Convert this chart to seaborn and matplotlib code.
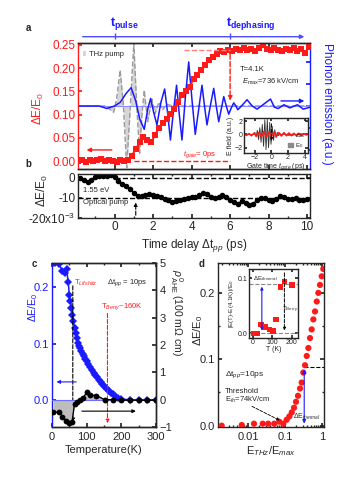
import numpy as np
import matplotlib
matplotlib.use("Agg")
import matplotlib.pyplot as plt
import seaborn as sns
from matplotlib.ticker import MultipleLocator, FixedLocator, LogLocator, NullFormatter
from matplotlib.lines import Line2D
from matplotlib.patches import Patch

# ---------------- data ----------------
# panel a: transient dE/E0 (red squares)
red_t = [-1.9, -1.7, -1.5, -1.3, -1.1, -0.9, -0.7, -0.5, -0.3, -0.1, 0.1, 0.3, 0.5, 0.7,
         0.9, 1.1, 1.3, 1.5, 1.7, 1.9, 2.1, 2.3, 2.5, 2.7, 2.9, 3.1, 3.3, 3.5, 3.7, 3.9,
         4.1, 4.3, 4.5, 4.7, 4.9, 5.1, 5.3, 5.5, 5.7, 5.9, 6.1, 6.3, 6.5, 6.7, 6.9, 7.1,
         7.3, 7.5, 7.7, 7.9, 8.1, 8.3, 8.5, 8.7, 8.9, 9.1, 9.3, 9.5, 9.7, 9.9, 10.1]
red_dE = [0.000, 0.002, -0.001, 0.003, 0.001, 0.002, 0.004, 0.000, 0.003, 0.001, -0.001, 0.002,
          0.001, 0.003, 0.012, 0.026, 0.040, 0.052, 0.045, 0.040, 0.056, 0.072, 0.082, 0.090,
          0.101, 0.112, 0.127, 0.143, 0.151, 0.159, 0.177, 0.186, 0.195, 0.207, 0.217, 0.224,
          0.231, 0.237, 0.235, 0.239, 0.236, 0.241, 0.238, 0.243, 0.239, 0.242, 0.236, 0.244,
          0.249, 0.241, 0.238, 0.243, 0.240, 0.236, 0.242, 0.239, 0.244, 0.237, 0.241, 0.233,
          0.245]

# panel a: phonon emission (blue, a.u.)
ph_t = [-1.9, -0.8, -0.4, 0.0, 0.3, 0.6, 0.86, 1.1, 1.3, 1.54, 1.72, 1.87, 2.03, 2.2, 2.4,
        2.6, 2.75, 2.9, 3.05, 3.22, 3.35, 3.5, 3.68, 3.85, 4.02, 4.19, 4.37, 4.54, 4.67, 4.8,
        4.97, 5.15, 5.28, 5.41, 5.54, 5.67, 5.8, 5.93, 6.06, 6.19, 6.3, 6.4, 6.65, 6.88, 7.15,
        7.4, 7.75, 8.1, 8.3, 8.5, 8.8, 9.1, 9.5, 9.8, 10.15]
ph_v = [0, 0, -0.04, 0.0, 0.06, 0.2, 0.29, 0.08, -0.2, -0.37, -0.05, 0.12, -0.1, -0.3, 0.05,
        0.27, -0.1, -0.54, -0.1, 0.33, -0.1, -0.54, 0.15, 0.7, 0.1, -0.45, -0.05, 0.33, 0.0, -0.3,
        0.0, 0.28, 0.0, -0.25, -0.05, 0.15, 0.0, -0.13, -0.03, 0.05, 0.0, -0.06, 0.02, 0.1, 0.0,
        -0.05, 0.03, 0.11, -0.02, -0.04, 0.02, -0.03, 0.02, -0.05, -0.02]

# panel a: THz pump waveform (gray)
pump_t = [-1.9, -0.5, -0.25, -0.05, 0.1, 0.29, 0.45, 0.63, 0.82, 1.0, 1.15, 1.3, 1.42, 1.54,
          1.72, 1.94, 2.1, 2.3, 2.5, 2.7, 3.0, 10.15]
pump_v = [0, 0, -0.05, -0.1, 0.1, 0.57, 0.05, -0.98, 0.0, 1.0, 0.0, -0.75, -0.15, 0.25,
          -0.25, 0.11, -0.12, 0.06, -0.06, 0.03, 0.0, 0]

# panel a inset: gate scans
gate_t = [-3.3, -2.2, -2.0, -1.85, -1.7, -1.55, -1.4, -1.25, -1.1, -0.95, -0.8, -0.65, -0.5,
          -0.35, -0.2, -0.05, 0.1, 0.25, 0.4, 0.55, 0.7, 0.85, 1.0, 1.2, 4.4]
gate_E0 = [0, 0, 0.3, -0.4, 0.6, -0.8, 1.0, -1.2, 1.5, -1.8, 2.2, -2.3, 2.3, -2.0, 1.8, -1.5,
           1.2, -0.9, 0.7, -0.5, 0.3, -0.2, 0.1, 0, 0]
gate_dt = [-3.3, -3.0, -2.7, -2.4, -2.1, -1.8, -1.5, -1.2, -0.9, -0.6, -0.3, 0.0, 0.3, 0.6,
           0.9, 1.2, 1.5, 1.8, 2.1, 2.4, 2.7, 3.0, 3.3, 3.6, 3.9, 4.2, 4.4]
gate_dE = [0.1, -0.15, 0.1, -0.2, 0.15, -0.25, 0.3, -0.35, 0.4, -0.4, 0.35, -0.3, 0.3, -0.3,
           0.25, -0.25, 0.25, -0.2, 0.2, -0.2, 0.15, -0.2, 0.15, -0.15, 0.1, -0.1, 0.05]

# panel b: optical pump (units of 1e-3)
opt_t = [-1.8, -1.6, -1.4, -1.2, -1.0, -0.8, -0.6, -0.4, -0.2, 0.0, 0.2, 0.4, 0.6, 0.8, 1.0,
         1.2, 1.4, 1.6, 1.8, 2.0, 2.2, 2.4, 2.6, 2.8, 3.0, 3.2, 3.4, 3.6, 3.8, 4.0, 4.2, 4.4,
         4.6, 4.8, 5.0, 5.2, 5.4, 5.6, 5.8, 6.0, 6.2, 6.4, 6.6, 6.8, 7.0, 7.2, 7.4, 7.6, 7.8,
         8.0, 8.2, 8.4, 8.6, 8.8, 9.0, 9.2, 9.4, 9.6, 9.8, 10.0]
opt_dE = [0, -1.2, -2.2, -0.8, 0.5, 0.8, 0.8, 1.0, 1.6, 0.4, -1.4, -3.0, -4.2, -5.4, -7.5,
          -9.0, -8.9, -8.6, -8.0, -8.3, -8.8, -9.5, -10.3, -11.2, -11.8, -11.5, -11.0, -10.5,
          -10.2, -9.7, -9.4, -8.6, -7.6, -8.2, -9.3, -9.8, -9.3, -8.5, -9.4, -11.0, -12.2,
          -12.8, -11.6, -12.6, -13.5, -12.8, -11.2, -10.0, -10.2, -10.8, -11.3, -10.5, -9.2,
          -9.6, -10.3, -10.6, -10.0, -10.8, -11.0, -10.4]

# panel c: temperature dependence
temp_c = [4, 10, 20, 30, 37, 42, 47, 50, 53, 56, 59, 62, 65, 68, 71, 74, 77, 80, 84, 88, 92,
          96, 100, 105, 110, 115, 120, 125, 130, 135, 140, 145, 150, 155, 160, 165, 170, 175,
          180, 190, 200, 225, 250, 275, 300]
dE_c = [0.242, 0.243, 0.241, 0.228, 0.225, 0.231, 0.208, 0.185, 0.176, 0.163, 0.150, 0.140,
        0.127, 0.118, 0.109, 0.101, 0.096, 0.092, 0.087, 0.082, 0.077, 0.073, 0.069, 0.064,
        0.058, 0.053, 0.048, 0.044, 0.040, 0.036, 0.032, 0.029, 0.025, 0.022, 0.019, 0.016,
        0.013, 0.010, 0.008, 0.004, 0.002, 0.0, 0.0, 0.0, 0.0]
temp_rho = [4, 20, 30, 40, 50, 58, 65, 72, 80, 90, 100, 110, 128, 152, 175, 200, 225, 250, 275, 300]
rho_ahe = [-0.46, -0.46, -0.62, -0.78, -0.86, -0.80, -0.15, -0.08, -0.02, 0.06, 0.27, 0.17,
           0.15, 0.0, 0.0, -0.02, -0.02, -0.02, -0.02, -0.02]

# panel d: field dependence
field_d = [0.00195, 0.0068, 0.0145, 0.025, 0.035, 0.051, 0.070, 0.09, 0.111, 0.131, 0.152,
           0.175, 0.198, 0.224, 0.254, 0.282, 0.312, 0.347, 0.386, 0.427, 0.473, 0.525, 0.582,
           0.646, 0.72, 0.795, 0.88, 0.98, 1.08]
dE_d = [0.0, 0.001, 0.003, 0.003, 0.003, 0.003, 0.006, 0.003, 0.009, 0.014, 0.02, 0.027,
        0.036, 0.045, 0.056, 0.065, 0.08, 0.091, 0.105, 0.117, 0.132, 0.145, 0.16, 0.172,
        0.187, 0.2, 0.212, 0.225, 0.236]
temp_in = [4, 20, 41, 63, 85, 102, 119, 143, 162, 200]
dEth_in = [0.0, 0.0, 0.016, 0.012, 0.007, 0.004, 0.025, 0.084, 0.094, 0.088]

# ---------------- style ----------------
sns.set_theme(style="ticks")
plt.rcParams['font.family'] = ['Liberation Sans', 'DejaVu Sans']
plt.rcParams['mathtext.fontset'] = 'custom'
plt.rcParams['mathtext.rm'] = 'Liberation Sans'
plt.rcParams['mathtext.it'] = 'Liberation Sans:italic'
plt.rcParams['mathtext.bf'] = 'Liberation Sans:bold'
plt.rcParams['xtick.direction'] = 'in'
plt.rcParams['ytick.direction'] = 'in'
plt.rcParams['xtick.major.size'] = 3
plt.rcParams['ytick.major.size'] = 3
plt.rcParams['xtick.minor.size'] = 1.5
plt.rcParams['ytick.minor.size'] = 1.5
plt.rcParams['xtick.major.pad'] = 2
plt.rcParams['ytick.major.pad'] = 2
plt.rcParams['axes.linewidth'] = 1.0

RED = '#ff1a1a'
BLUE = '#1a1aff'
W, H = 360, 480


def px_rect(x0, y0, x1, y1):
    return [x0 / W, 1 - y1 / H, (x1 - x0) / W, (y1 - y0) / H]


fig = plt.figure(figsize=(3.6, 4.8), dpi=100)

# ================= panel a =================
axA = fig.add_axes(px_rect(78, 43, 310, 169))
axP = axA.twinx()
axA.set_zorder(axP.get_zorder() + 1)
axA.patch.set_visible(False)

axP.fill_between(pump_t, pump_v, 0, color='#d6d6d6', lw=0, label='THz pump')
sns.lineplot(x=pump_t, y=pump_v, ax=axP, color='#9a9a9a', lw=1.0, linestyle='--', sort=False)
axP.axhline(0, color='#8c8cff', lw=0.8)
sns.lineplot(x=ph_t, y=ph_v, ax=axP, color=BLUE, lw=1.1, sort=False)
axP.set_ylim(-1, 1)
axP.yaxis.set_major_locator(MultipleLocator(0.35))
axP.tick_params(axis='y', colors=BLUE, labelright=False, length=3)
axP.spines['right'].set_color(BLUE)
axP.spines['left'].set_visible(False)
axP.set_ylabel('Phonon emission (a.u.)', color=BLUE, fontsize=8.5, rotation=270)
axP.yaxis.set_label_coords(1.10, 0.52)
axP.legend(loc='upper left', frameon=False, fontsize=5.5, handlelength=0.5, handleheight=0.5,
           handletextpad=0.4, borderaxespad=0.2, bbox_to_anchor=(0.0, 0.97))

sns.lineplot(x=red_t, y=red_dE, ax=axA, color=RED, lw=1.4, marker='s', markersize=4,
             markeredgewidth=0)
axA.set_xlim(-1.9, 10.15)
axA.set_ylim(-0.017, 0.254)
axA.set_yticks([0, 0.05, 0.10, 0.15, 0.20, 0.25])
axA.set_yticklabels(['0.00', '0.05', '0.10', '0.15', '0.20', '0.25'])
axA.xaxis.set_major_locator(MultipleLocator(2))
axA.tick_params(axis='x', top=True, labelbottom=False)
axA.tick_params(axis='y', colors=RED, labelsize=8.5)
axA.spines['left'].set_color(RED)
axA.spines['right'].set_visible(False)
axA.set_ylabel(r'$\Delta$E/E$_0$', color=RED, fontsize=8.5)
axA.yaxis.set_label_coords(-0.14, 0.48)
axA.set_xlabel('')

axA.hlines(0.238, 3.6, 6.0, colors='#ff7f7f', linestyles='--', lw=1)
axA.hlines(0.0, 1.0, 6.0, colors=RED, linestyles='--', lw=1)
axA.annotate('', xy=(6.0, 0.124), xytext=(6.0, 0.236),
             arrowprops=dict(arrowstyle='-|>', color=RED, lw=1, ls='--', mutation_scale=6))
axA.annotate('', xy=(-1.6, 0.024), xytext=(0.0, 0.024),
             arrowprops=dict(arrowstyle='-|>', color=RED, lw=1, mutation_scale=6))
axP.annotate('', xy=(10.0, 0.08), xytext=(8.5, 0.08),
             arrowprops=dict(arrowstyle='-|>', color=BLUE, lw=1, mutation_scale=6))
axA.text(6.5, 0.196, 'T=4.1K', fontsize=5.5, va='center')
axA.text(6.6, 0.170, r'$\mathit{E}_{\rm max}$=736 kV/cm', fontsize=5.5, va='center')
axA.text(3.55, 0.013, r'$\mathit{t}_{\mathit{gate}}$= 0ps', fontsize=5.5, color=RED, va='center')

# top time arrow
xtr = axA.get_xaxis_transform()
axA.annotate('', xy=(10.0, 1.05), xytext=(-1.8, 1.05), xycoords=xtr, textcoords=xtr,
             annotation_clip=False,
             arrowprops=dict(arrowstyle='-|>', color='#4d4dff', lw=1, mutation_scale=6))
axA.vlines([0, 6], 1.03, 1.08, transform=xtr, colors='#4d4dff', lw=1, clip_on=False)
axA.text(-0.25, 1.09, r'$\mathbf{t}_{\mathbf{pulse}}$', transform=xtr, color=BLUE,
         fontsize=9, va='bottom', ha='left')
axA.text(5.8, 1.09, r'$\mathbf{t}_{\mathbf{dephasing}}$', transform=xtr, color=BLUE,
         fontsize=9, va='bottom', ha='left')

# inset a
axIa = fig.add_axes(px_rect(244, 118, 308, 153))
axIa.set_facecolor('white')
axIa.fill_between(gate_t, gate_E0, 0, color='#b5b5b5', lw=0)
sns.lineplot(x=gate_t, y=gate_E0, ax=axIa, color='#333333', lw=0.6, sort=False)
sns.lineplot(x=gate_dt, y=gate_dE, ax=axIa, color=RED, lw=1.2, sort=False)
axIa.annotate('', xy=(0.0, -1.4), xytext=(0.0, 2.0),
              arrowprops=dict(arrowstyle='-|>', color='black', lw=0.7, ls='--', mutation_scale=4))
axIa.set_xlim(-3.3, 4.4)
axIa.set_ylim(-2.8, 2.45)
axIa.set_xticks([-2, 0, 2, 4])
axIa.set_yticks([-2, 0, 2])
axIa.tick_params(labelsize=5, length=2, pad=1, top=True, right=True)
axIa.set_xlabel(r'Gate time $\mathit{t}_{\mathit{gate}}$ (ps)', fontsize=5, labelpad=0)
axIa.set_ylabel('E field (a.u.)', fontsize=5, labelpad=0)
axIa.legend(handles=[Line2D([], [], color=RED, lw=1.2), Patch(color='#8a8a8a')],
            labels=[r'$\Delta$E', 'E$_0$'], loc='lower right', frameon=False, fontsize=4.5,
            handlelength=0.8, handleheight=0.6, handletextpad=0.3, borderaxespad=0.1,
            labelspacing=0.3)

# ================= panel b =================
axB = fig.add_axes(px_rect(78, 174, 310, 218))
sns.lineplot(x=opt_t, y=opt_dE, ax=axB, color='black', lw=1.0, marker='o', markersize=4,
             markeredgewidth=0)
axB.hlines(0, 0, 10.15, colors='black', linestyles='--', lw=1)
axB.axhline(-10, color='black', ls='--', lw=1)
axB.annotate('', xy=(1.1, -10.8), xytext=(1.1, -20),
             arrowprops=dict(arrowstyle='-|>', color='black', lw=0.8, ls='--', mutation_scale=5))
axB.text(-1.64, -6.3, '1.55 eV', fontsize=5.5, va='center')
axB.text(-1.64, -12.5, 'Optical pump', fontsize=5.5, va='center')
axB.set_xlim(-1.9, 10.15)
axB.set_ylim(-20, 2)
axB.set_yticks([0, -10, -20])
axB.set_yticklabels(['0', '-10', '-20x10$^{-3}$'])
axB.xaxis.set_major_locator(MultipleLocator(2))
axB.xaxis.set_minor_locator(MultipleLocator(1))
axB.tick_params(axis='both', which='both', top=True, right=True, labelsize=8.5)
axB.set_ylabel(r'$\Delta$E/E$_0$', fontsize=8.5)
axB.yaxis.set_label_coords(-0.12, 0.62)
axB.set_xlabel(r'Time delay $\Delta$t$_{pp}$ (ps)', fontsize=8.5, labelpad=3)

# ================= panel c =================
axC = fig.add_axes(px_rect(52, 263, 156, 427))
axR = axC.twinx()
sns.lineplot(x=temp_c, y=dE_c, ax=axC, color=BLUE, lw=1.1, marker='D', markersize=3.6,
             markeredgewidth=0)
axR.fill_between(temp_rho, rho_ahe, 0, color='#bdbdbd', lw=0)
axR.axhline(0, color='#6f6fff', lw=0.8)
sns.lineplot(x=temp_rho, y=rho_ahe, ax=axR, color='black', lw=1.0, marker='o', markersize=4.2,
             markeredgewidth=0)
axC.set_xlim(0, 300)
axC.set_ylim(-0.0478, 0.2425)
axR.set_ylim(-1, 5)
axC.set_xticks([0, 100, 200, 300])
axC.xaxis.set_minor_locator(MultipleLocator(50))
axC.set_yticks([0.0, 0.1, 0.2])
axC.set_yticklabels(['0.0', '0.1', '0.2'])
axC.tick_params(axis='x', which='both', top=True, labelsize=8, pad=3.5)
axC.tick_params(axis='y', colors=BLUE, labelsize=8)
axC.spines['left'].set_color(BLUE)
axR.spines['left'].set_visible(False)
axR.set_yticks([-1, 0, 1, 2, 3, 4, 5])
axR.tick_params(axis='y', labelsize=8, pad=2.5)
axC.set_ylabel(r'$\Delta$E/E$_0$', color=BLUE, fontsize=7.5)
axC.yaxis.set_label_coords(-0.12, 0.73)
axR.set_ylabel(r'$\rho^{\,0}_{\,\rm AHE}$ (100 m$\Omega$ cm)', fontsize=7.5, rotation=270)
axR.yaxis.set_label_coords(1.28, 0.70)
axC.set_xlabel('Temperature(K)', fontsize=8, labelpad=2)

axC.annotate('', xy=(60, -0.044), xytext=(60, 0.207),
             arrowprops=dict(arrowstyle='-|>', color='black', lw=0.8, ls='--', mutation_scale=5))
axC.annotate('', xy=(160, -0.046), xytext=(160, 0.158),
             arrowprops=dict(arrowstyle='-|>', color=RED, lw=0.8, ls='--', mutation_scale=5))
axC.annotate('', xy=(5, 0.032), xytext=(78, 0.032),
             arrowprops=dict(arrowstyle='-|>', color=BLUE, lw=0.8, mutation_scale=5))
axR.annotate('', xy=(250, -0.42), xytext=(78, -0.42),
             arrowprops=dict(arrowstyle='-|>', color='black', lw=0.8, mutation_scale=5))
axC.text(64, 0.207, r'T$_{Lifshitz}$', color=RED, fontsize=5.5, va='center')
axC.text(160, 0.207, r'$\Delta$t$_{pp}$ = 10ps', fontsize=5.5, va='center')
axC.text(141, 0.165, r'T$_{Berry}$~160K', color=RED, fontsize=5.5, va='center')

# ================= panel d =================
axD = fig.add_axes(px_rect(218, 263, 324, 427))
sns.scatterplot(x=field_d, y=dE_d, ax=axD, color=RED, s=20, edgecolor='none', zorder=3)
axD.set_xscale('log')
axD.set_xlim(0.00155, 1.13)
axD.set_ylim(-0.002, 0.245)
axD.xaxis.set_major_locator(FixedLocator([0.01, 0.1, 1]))
axD.set_xticklabels(['0.01', '0.1', '1'])
axD.xaxis.set_minor_locator(LogLocator(base=10, subs=np.arange(2, 10)))
axD.xaxis.set_minor_formatter(NullFormatter())
axD.set_yticks([0.0, 0.1, 0.2])
axD.set_yticklabels(['0.0', '0.1', '0.2'])
axD.yaxis.set_minor_locator(MultipleLocator(0.05))
axD.tick_params(axis='both', which='both', top=True, right=True, labelsize=8)
axD.tick_params(axis='x', pad=3.5)
axD.set_ylabel(r'$\Delta$E/E$_0$', fontsize=8)
axD.yaxis.set_label_coords(-0.12, 0.59)
axD.set_xlabel(r'E$_{THz}$/E$_{max}$', fontsize=8, labelpad=2)

axD.hlines(0.088, 0.33, 1.13, colors='black', linestyles='--', lw=0.8)
axD.annotate('', xy=(0.33, 0.089), xytext=(0.33, -0.001),
             arrowprops=dict(arrowstyle='<|-|>', color=BLUE, lw=0.8, mutation_scale=5))
axD.text(0.16, 0.0135, r'$\Delta$E$_{thermal}$', fontsize=5, va='center')
axD.text(0.0024, 0.077, r'$\Delta$t$_{pp}$=10ps', fontsize=6, va='center')
axD.text(0.0024, 0.044, 'Threshold\nE$_{th}$=74kV/cm', fontsize=5.5, va='center',
         linespacing=1.1)
axD.annotate('', xy=(0.085, 0.006), xytext=(0.011, 0.031),
             arrowprops=dict(arrowstyle='-|>', color='black', lw=0.6, ls='--', mutation_scale=4))

# inset d
axDi = fig.add_axes(px_rect(249, 269, 298, 338))
axDi.axhline(0.09, color='#8a8a8a', ls='--', lw=0.8)
axDi.axhline(0.0, color='#8a8a8a', ls='--', lw=0.8)
sns.scatterplot(x=temp_in, y=dEth_in, ax=axDi, color=RED, marker='s', s=16, edgecolor='none',
                zorder=3)
axDi.annotate('', xy=(46, 0.09), xytext=(46, 0.0),
              arrowprops=dict(arrowstyle='<|-|>', color=BLUE, lw=0.8, mutation_scale=4))
axDi.annotate('', xy=(162, 0.0), xytext=(162, 0.115),
              arrowprops=dict(arrowstyle='-|>', color='black', lw=0.7, ls='--', mutation_scale=4))
axDi.text(2, 0.099, r'$\Delta$E$_{thermal}$', fontsize=4.5, va='center')
axDi.text(148, 0.042, r'T$_{Berry}$', fontsize=4.5, va='center')
axDi.set_xlim(-20, 232)
axDi.set_ylim(-0.0085, 0.117)
axDi.set_xticks([0, 100, 200])
axDi.set_yticks([0.0, 0.1])
axDi.set_yticklabels(['0.0', '0.1'])
axDi.tick_params(labelsize=5, length=2, pad=1, top=True, right=True)
axDi.set_xlabel('T (K)', fontsize=5, labelpad=0)
axDi.set_ylabel('|E(T)-E(4.1K)|/E$_0$', fontsize=4.5, labelpad=1)

# panel letters
for lab, x, y in [('a', 28, 28), ('b', 28, 164), ('c', 34, 264), ('d', 202, 264)]:
    fig.text(x / W, 1 - y / H, lab, fontsize=7, fontweight='bold', ha='center', va='center')

fig.savefig('out.png', dpi=100)
